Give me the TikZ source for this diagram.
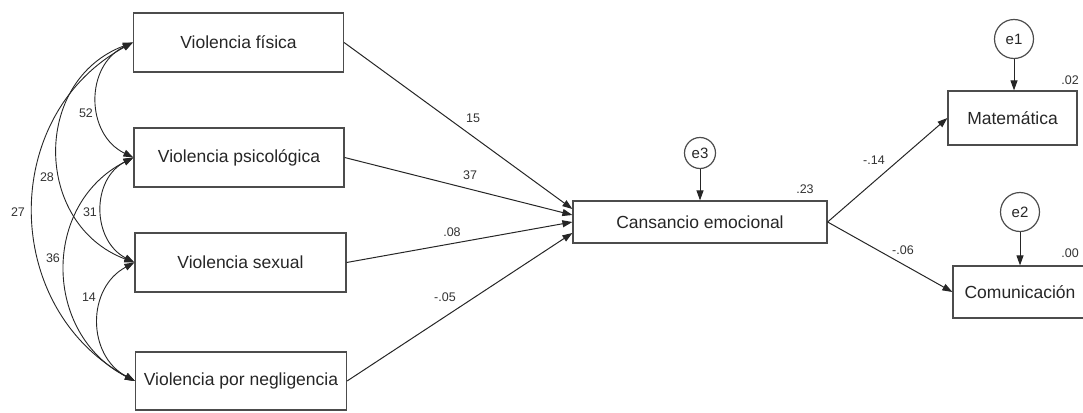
\documentclass[tikz,border=0pt]{standalone}
\usepackage{fontspec}
\setmainfont{Liberation Sans}
\usetikzlibrary{arrows.meta,calc}
\begin{document}
\begin{tikzpicture}[x=1pt,y=-1pt,
  box/.style={draw=black!70, line width=1.2pt, text=black!85, font=\fontsize{17.5}{20}\selectfont, inner sep=0pt},
  err/.style={draw=black!70, line width=1.2pt, circle, inner sep=0pt, text=black!85, font=\fontsize{15}{18}\selectfont},
  reg/.style={draw=black!85, line width=1pt, -{Triangle[length=10pt,width=7pt]}},
  corr/.style={draw=black!85, line width=0.9pt, {Triangle[length=10pt,width=7pt]}-{Triangle[length=10pt,width=7pt]}},
  lbl/.style={text=black!80, font=\fontsize{12.5}{14}\selectfont, inner sep=0pt}
]
\useasboundingbox (0,0) rectangle (1083,412);
\clip (0,0) rectangle (1083,412);

% exogenous boxes
\node[box, minimum width=210, minimum height=59] (fis) at (238.5,42.5) {Violencia física};
\node[box, minimum width=210, minimum height=59] (psi) at (239,157.5) {Violencia psicológica};
\node[box, minimum width=211, minimum height=59] (sex) at (240.5,262.5) {Violencia sexual};
\node[box, minimum width=211, minimum height=58] (neg) at (241,381) {Violencia por negligencia};

% mediator
\node[box, minimum width=254, minimum height=42] (can) at (700,222) {Cansancio emocional};
\node[err, minimum size=31] (e3) at (700,153) {e3};

% outcomes
\node[box, minimum width=129, minimum height=54] (mat) at (1012.5,118) {Matemática};
\node[err, minimum size=39] (e1) at (1014,39) {e1};
\node[box, minimum width=134, minimum height=52] (com) at (1020,292) {Comunicación};
\node[err, minimum size=39] (e2) at (1020,212) {e2};

% regressions
\draw[reg] (fis.east) -- ($(can.west)+(0,-13)$);
\draw[reg] (psi.east) -- ($(can.west)+(0,-7)$);
\draw[reg] (sex.east) -- ($(can.west)+(0,0)$);
\draw[reg] (neg.east) -- ($(can.west)+(0,11)$);
\draw[reg] (can.east) -- (mat.west);
\draw[reg] (can.east) -- (com.west);
\draw[reg] (e3.south) -- (can.north);
\draw[reg] (e1.south) -- (e1.south |- mat.north);
\draw[reg] (e2.south) -- (e2.south |- com.north);

% correlations
\draw[corr] (fis.west) .. controls ($(fis.west)+(-48.1,23.2)$) and ($(psi.west)+(-48.1,-23.2)$) .. (psi.west);
\draw[corr] (psi.west) .. controls ($(psi.west)+(-42.5,22)$) and ($(sex.west)+(-42.5,-22)$) .. (sex.west);
\draw[corr] (sex.west) .. controls ($(sex.west)+(-48,25.6)$) and ($(neg.west)+(-48,-25.6)$) .. (neg.west);
\draw[corr] (fis.west) .. controls ($(fis.west)+(-101,38)$) and ($(sex.west)+(-101,-38)$) .. (sex.west);
\draw[corr] (psi.west) .. controls ($(psi.west)+(-92,47)$) and ($(neg.west)+(-92,-47)$) .. (neg.west);
\draw[corr] (fis.west) .. controls ($(fis.west)+(-134,73)$) and ($(neg.west)+(-134,-73)$) .. (neg.west);

% labels
\node[lbl] (l52) at (86,113) {52};
\node[lbl] (l28) at (47,177) {28};
\node[lbl] (l27) at (18,212) {27};
\node[lbl] (l31) at (90,212) {31};
\node[lbl] (l36) at (53,258) {36};
\node[lbl] (l14) at (89,297) {14};
\node[lbl] (l15) at (473,118) {15};
\node[lbl] (l37) at (470,175) {37};
\node[lbl] (l08) at (452,232) {.08};
\node[lbl] (l05) at (445,297) {-.05};
\node[lbl] (l23) at (805,189) {.23};
\node[lbl] (l14b) at (874,160) {-.14};
\node[lbl] (l06) at (903,250) {-.06};
\node[lbl] (l02) at (1070,80) {.02};
\node[lbl] (l00) at (1070,253) {.00};
\end{tikzpicture}
\end{document}
